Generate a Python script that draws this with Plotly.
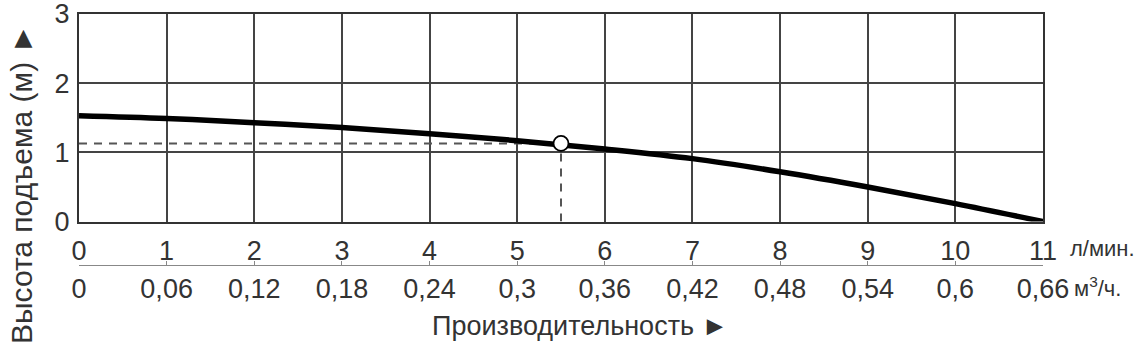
import plotly.graph_objects as go

# Data
flow_lpm = [0, 1, 2, 3, 4, 5, 6, 7, 8, 9, 10, 11]
head_m = [1.53, 1.49, 1.43, 1.36, 1.27, 1.17, 1.05, 0.91, 0.72, 0.50, 0.26, 0.0]
op_flow = [5.5]
op_head = [1.13]
x_ticks = list(range(0, 12))
x_ticklabels = [str(v) for v in x_ticks]
m3_ticks = [0, 0.06, 0.12, 0.18, 0.24, 0.3, 0.36, 0.42, 0.48, 0.54, 0.6, 0.66]
m3_ticklabels = ["0", "0,06", "0,12", "0,18", "0,24", "0,3", "0,36", "0,42", "0,48", "0,54", "0,6", "0,66"]
y_ticks = [0, 1, 2, 3]

FONT = "Liberation Sans, Arial, sans-serif"
TXT = "#333333"
H = 354.0
PH = 340.0  # plotting height (t=14, b=0)

fig = go.Figure()

# dashed helper lines to operating point
fig.add_trace(go.Scatter(x=[0, op_flow[0]], y=[op_head[0], op_head[0]], mode="lines",
                         line=dict(color="#555555", width=2, dash="8px,7px"),
                         hoverinfo="skip", showlegend=False))
fig.add_trace(go.Scatter(x=[op_flow[0], op_flow[0]], y=[0, op_head[0]], mode="lines",
                         line=dict(color="#555555", width=2, dash="8px,7px"),
                         hoverinfo="skip", showlegend=False))
# pump curve
fig.add_trace(go.Scatter(x=flow_lpm, y=head_m, mode="lines",
                         line=dict(color="black", width=5.5, shape="spline"),
                         showlegend=False))
# operating point
fig.add_trace(go.Scatter(x=op_flow, y=op_head, mode="markers",
                         marker=dict(size=15, color="white", line=dict(color="black", width=1.8)),
                         showlegend=False))
# invisible trace for second axis
fig.add_trace(go.Scatter(x=[0, 0.66], y=[0, 0], xaxis="x2", mode="markers",
                         marker=dict(opacity=0), hoverinfo="skip", showlegend=False))

fig.update_layout(
    width=1141, height=354,
    margin=dict(l=79, r=98, t=14, b=0, autoexpand=False),
    paper_bgcolor="white", plot_bgcolor="white",
    font=dict(family=FONT, color=TXT),
    xaxis=dict(range=[0, 11], tickvals=x_ticks, ticktext=x_ticklabels,
               showgrid=True, gridcolor="#444444", gridwidth=1.6,
               showline=True, linecolor="#333333", linewidth=2, mirror=True,
               zeroline=False, ticks="", ticklen=0, automargin=False,
               tickfont=dict(size=27, family=FONT, color=TXT),
               ticklabelstandoff=4, ticklabeloverflow="allow", fixedrange=True),
    yaxis=dict(range=[0, 3], tickvals=y_ticks, domain=[(H - 221.6) / PH, 1],
               showgrid=True, gridcolor="#444444", gridwidth=1.6,
               showline=True, linecolor="#333333", linewidth=2, mirror=True,
               zeroline=False, ticks="", ticklen=0, automargin=False,
               tickfont=dict(size=27, family=FONT, color=TXT),
               ticklabelstandoff=2, ticklabeloverflow="allow", fixedrange=True),
    xaxis2=dict(range=[0, 0.66], overlaying="x", anchor="free", position=(H - 265) / PH,
                side="bottom", automargin=False,
                tickvals=m3_ticks, ticktext=m3_ticklabels, showgrid=False, zeroline=False,
                showline=True, linecolor="#888888", linewidth=1,
                ticks="inside", ticklen=4, tickcolor="#888888",
                tickfont=dict(size=27, family=FONT, color=TXT),
                ticklabeloverflow="allow", fixedrange=True),
    annotations=[
        dict(text="л/мин.", xref="paper", yref="paper", x=(1068 - 79) / 964, y=(H - 248) / PH,
             xanchor="left", yanchor="middle", showarrow=False,
             font=dict(size=22, family=FONT, color=TXT)),
        dict(text="м<sup>3</sup>/ч.", xref="paper", yref="paper", x=(1072 - 79) / 964, y=(H - 287) / PH,
             xanchor="left", yanchor="middle", showarrow=False,
             font=dict(size=22, family=FONT, color=TXT)),
        dict(text="Производительность ►", xref="paper", yref="paper", x=(580 - 79) / 964,
             y=(H - 326) / PH, xanchor="center", yanchor="middle", showarrow=False,
             font=dict(size=27, family=FONT, color=TXT)),
        dict(text="Высота подъема (м) ►", xref="paper", yref="paper", x=(21 - 79) / 964,
             y=(H - 184) / PH, xanchor="center", yanchor="middle", textangle=-90,
             showarrow=False, font=dict(size=30, family=FONT, color=TXT)),
    ],
)

fig.write_html("out.html")
